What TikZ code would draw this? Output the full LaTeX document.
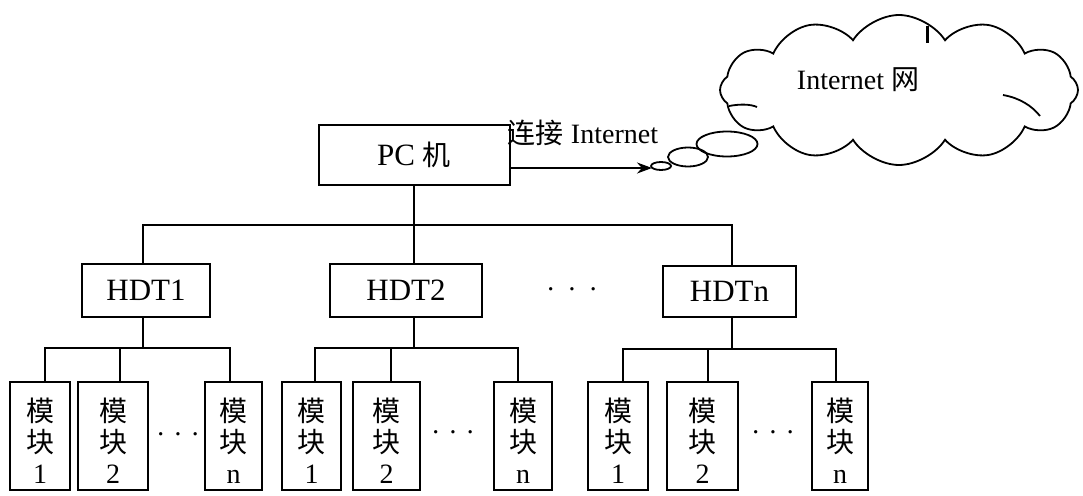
\documentclass[tikz,border=0pt]{standalone}
\usepackage{fontspec}
\setmainfont{Liberation Serif}
\newfontfamily\cjk{Noto Sans CJK SC}
\usetikzlibrary{shapes.symbols,shapes.geometric,arrows.meta}
\newcommand{\mo}{{\cjk 模}\rule{0pt}{33pt}}
\newcommand{\kuai}{{\cjk 块}}
\begin{document}
\begin{tikzpicture}[x=1pt,y=-1pt,line width=1.8pt,
  every node/.style={font=\fontsize{28}{31}\selectfont},
  big/.style={font=\fontsize{31}{34}\selectfont},
  box/.style={draw, line width=2pt, inner sep=0pt, minimum height=53pt, big},
  modbox/.style={draw, line width=2pt, inner sep=0pt, minimum height=108pt, align=center},
  bubble/.style={draw, ellipse, inner sep=0pt, line width=1.8pt},
  hdots/.style={inner sep=0pt}]
\useasboundingbox (0,0) rectangle (1083,495);

% top level
\node[box, minimum width=191pt, minimum height=60pt] (pc) at (414,155) {PC {\cjk\fontsize{28}{31}\selectfont 机}};
\node[box, minimum width=128pt] (hdt1) at (146,290.5) {HDT1};
\node[box, minimum width=152pt] (hdt2) at (406,290.5) {HDT2};
\node[box, minimum width=133pt, minimum height=51pt] (hdtn) at (729.5,291.5) {HDTn};
\node[hdots] (dotsH) at (572,293) {·\hspace{12pt}·\hspace{12pt}·};

% modules
\node[modbox, minimum width=60pt] (m11) at (40,436) {\mo\\\kuai\\1};
\node[modbox, minimum width=70pt] (m12) at (113,436) {\mo\\\kuai\\2};
\node[modbox, minimum width=57pt] (m1n) at (233.5,436) {\mo\\\kuai\\n};
\node[hdots] (d1) at (178,438) {·\hspace{8pt}·\hspace{8pt}·};

\node[modbox, minimum width=59pt] (m21) at (311.5,436) {\mo\\\kuai\\1};
\node[modbox, minimum width=67pt] (m22) at (386.5,436) {\mo\\\kuai\\2};
\node[modbox, minimum width=58pt] (m2n) at (523,436) {\mo\\\kuai\\n};
\node[hdots] (d2) at (453,436) {·\hspace{8pt}·\hspace{8pt}·};

\node[modbox, minimum width=60pt] (mn1) at (618,436) {\mo\\\kuai\\1};
\node[modbox, minimum width=71pt] (mn2) at (702.5,436) {\mo\\\kuai\\2};
\node[modbox, minimum width=56pt] (mnn) at (840,436) {\mo\\\kuai\\n};
\node[hdots] (d3) at (773,436) {·\hspace{8pt}·\hspace{8pt}·};

% main bus
\coordinate (t1) at (143,225);
\coordinate (tn) at (732,225);
\draw (pc.south) -- (pc.south |- hdt2.north);
\draw (t1 |- hdt1.north) -- (t1) -- (tn) -- (tn |- hdtn.north);

% HDT1 sub-bus
\coordinate (s1a) at (45,348); \coordinate (s1b) at (120,348); \coordinate (s1c) at (230,348);
\draw (hdt1.south -| t1) -- (t1 |- s1a);
\draw (s1a |- m11.north) -- (s1a) -- (s1c) -- (s1c |- m1n.north);
\draw (s1b) -- (s1b |- m12.north);

% HDT2 sub-bus
\coordinate (s2a) at (315,348); \coordinate (s2b) at (391,348); \coordinate (s2c) at (518,348);
\draw (hdt2.south -| pc.south) -- (pc.south |- s2a);
\draw (s2a |- m21.north) -- (s2a) -- (s2c) -- (s2c |- m2n.north);
\draw (s2b) -- (s2b |- m22.north);

% HDTn sub-bus
\coordinate (s3a) at (623,349); \coordinate (s3b) at (708,349); \coordinate (s3c) at (836,349);
\draw (hdtn.south -| tn) -- (tn |- s3a);
\draw (s3a |- mn1.north) -- (s3a) -- (s3c) -- (s3c |- mnn.north);
\draw (s3b) -- (s3b |- mn2.north);

% internet link
\coordinate (tip) at (652,168);
\draw[-{Stealth[length=15pt,width=11pt]}] ([yshift=-13pt]pc.east) -- (tip);
\node (lbl) at (583,133) {{\cjk 连接} Internet};

% cloud
\node[cloud, draw, line width=1.8pt, cloud puffs=12, cloud puff arc=115, aspect=2.35,
      minimum width=358pt, minimum height=150pt, inner sep=0pt] (net) at (899,90) {};
\node (nettext) at (858,80) {Internet {\cjk 网}};
\draw[line width=3pt] (927,26) -- (927,43);
\draw (729,106) .. controls (740,104) and (750,104) .. (757,107);
\draw (1003,95) .. controls (1020,98) and (1032,106) .. (1040,116);
\node[bubble, minimum width=61pt, minimum height=25pt] (b3) at (727,144) {};
\node[bubble, minimum width=40pt, minimum height=19pt] (b2) at (688,157) {};
\node[bubble, minimum width=20pt, minimum height=8pt] (b1) at (661,166) {};
\end{tikzpicture}
\end{document}
